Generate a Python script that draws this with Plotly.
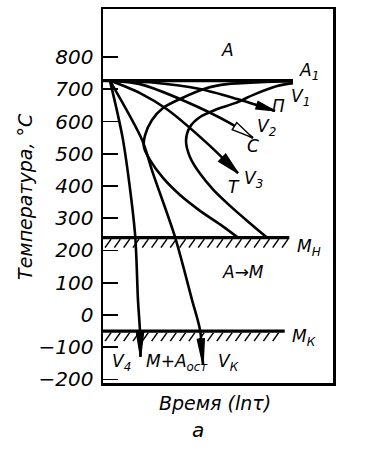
import numpy as np
import plotly.graph_objects as go

# ---------------- data (time in lg tau, temperature in deg C) ----------------
T_TICKS = [-200, -100, 0, 100, 200, 300, 400, 500, 600, 700, 800]
X_RANGE = [0, 10]
T_RANGE = [-211, 949]

A1 = 727          # critical point A1
MN = 240          # martensite start
MK = -50          # martensite finish
A1_X = [0.0, 8.26]
MN_X = [0.0, 8.1]
MK_X = [0.0, 7.9]

# start-of-transformation C-curve
start_t = [5.87, 5.09, 4.22, 3.35, 2.61, 2.04, 1.78, 1.83, 2.13, 2.61, 3.35, 4.52, 5.39, 6.83, 8.26]
start_T = [240, 281, 323, 372, 425, 481, 521, 558, 605, 642, 670, 704, 716, 722, 725]
# end-of-transformation C-curve
finish_t = [7.13, 6.30, 5.50, 4.80, 4.20, 3.78, 3.61, 3.78, 4.22, 4.87, 5.74, 6.61, 7.57, 8.26]
finish_T = [240, 290, 340, 388, 440, 490, 540, 583, 614, 636, 657, 685, 710, 719]

# cooling curves
v1_t = [0.30, 2.04, 4.22, 5.83, 7.48]
v1_T = [727, 722, 701, 670, 633]
v2_t = [0.30, 1.61, 3.57, 5.52, 6.52]
v2_T = [727, 716, 663, 595, 549]
v3_t = [0.30, 1.61, 2.78, 4.52, 5.87]
v3_T = [727, 688, 638, 533, 440]
vk_t = [0.30, 1.70, 2.17, 3.13, 3.87, 4.22, 4.35]
vk_T = [727, 543, 440, 242, 47, -47, -155]
v4_t = [0.30, 0.87, 1.39, 1.52, 1.61, 1.63]
v4_T = [727, 543, 254, 47, -53, -130]

# labels
label_text = ["А", "А<sub>1</sub>", "V<sub>1</sub>", "П", "V<sub>2</sub>", "С",
              "V<sub>3</sub>", "Т", "М<sub>Н</sub>", "А→М", "М<sub>К</sub>",
              "V<sub>4</sub>", "М+А<sub>ост</sub>", "V<sub>К</sub>"]
label_x = [5.43, 8.95, 8.6, 7.65, 7.1, 6.5, 6.55, 5.7, 8.95, 6.1, 8.75, 0.8, 3.2, 5.45]
label_T = [822, 755, 676, 648, 582, 525, 419, 398, 208, 133, -71, -146, -146, -146]

# ---------------- figure ----------------
W, H = 381, 450
ML, MR, MT, MB = 103, 48, 9, 67
PW, PH = W - ML - MR, H - MT - MB
SX = PW / (X_RANGE[1] - X_RANGE[0])   # px per x unit
SY = PH / (T_RANGE[1] - T_RANGE[0])   # px per degree

FONT = "DejaVu Sans"
fig = go.Figure()


def curve(t, T, width=2.6, shape="spline"):
    fig.add_trace(go.Scatter(x=t, y=T, mode="lines",
                             line=dict(color="black", width=width, shape=shape, smoothing=0.8),
                             hoverinfo="skip", showlegend=False))


def arrowhead(t, T, length, half, fill="black"):
    dx = (t[-1] - t[-2]) * SX
    dy = (T[-1] - T[-2]) * SY
    n = np.hypot(dx, dy)
    ux, uy = dx / n, dy / n
    px, py = -uy, ux
    tipx, tipy = t[-1], T[-1]
    bx = tipx - ux * length / SX
    by = tipy - uy * length / SY
    xs = [tipx, bx + px * half / SX, bx - px * half / SX, tipx]
    ys = [tipy, by + py * half / SY, by - py * half / SY, tipy]
    fig.add_trace(go.Scatter(x=xs, y=ys, mode="lines", fill="toself", fillcolor=fill,
                             line=dict(color="black", width=1.4), hoverinfo="skip", showlegend=False))


# critical lines
curve(A1_X, [A1, A1], width=3.2, shape="linear")
curve(MN_X, [MN, MN], width=3.2, shape="linear")
curve(MK_X, [MK, MK], width=3.2, shape="linear")

# hatching under Mn and Mk
for level, xr in [(MN, MN_X), (MK, MK_X)]:
    hx, hy = [], []
    for xh in np.arange(xr[0] + 0.35, xr[1] - 0.05, 0.405):
        hx += [xh, xh - 6 / SX, None]
        hy += [level - 1.5 / SY, level - 10 / SY, None]
    fig.add_trace(go.Scatter(x=hx, y=hy, mode="lines", line=dict(color="black", width=1.5),
                             hoverinfo="skip", showlegend=False))

# C-curves
curve(start_t, start_T)
curve(finish_t, finish_T)

# cooling curves
for t, T in [(v1_t, v1_T), (v2_t, v2_T), (v3_t, v3_T), (vk_t, vk_T), (v4_t, v4_T)]:
    curve(t, T, width=2.6)

arrowhead(v1_t, v1_T, 19, 3.8)
arrowhead(v2_t, v2_T, 22, 4.2, fill="white")
arrowhead(v3_t, v3_T, 22, 5.0)
arrowhead(vk_t, vk_T, 26, 3.5)
arrowhead(v4_t, v4_T, 24, 3.5)

# text labels
for txt, x, y in zip(label_text, label_x, label_T):
    fig.add_annotation(x=x, y=y, text=txt, showarrow=False, xanchor="center", yanchor="middle",
                       font=dict(family=FONT, size=17, color="black", style="italic"))

# axis titles
fig.add_annotation(xref="paper", yref="y", x=(25 - ML) / PW, y=366, text="Температура, °С",
                   textangle=-90, showarrow=False, xanchor="center", yanchor="middle",
                   font=dict(family=FONT, size=19, color="black", style="italic"))
fig.add_annotation(xref="paper", yref="paper", x=(215 - ML) / PW, y=-(403 - MT - PH) / PH,
                   text="Время (lnτ)", showarrow=False, xanchor="center", yanchor="middle",
                   font=dict(family=FONT, size=19, color="black", style="italic"))
fig.add_annotation(xref="paper", yref="paper", x=(198 - ML) / PW, y=-(430 - MT - PH) / PH,
                   text="а", showarrow=False, xanchor="center", yanchor="middle",
                   font=dict(family=FONT, size=20, color="black", style="italic"))

fig.update_layout(
    width=W, height=H, margin=dict(l=ML, r=MR, t=MT, b=MB, autoexpand=False),
    paper_bgcolor="white", plot_bgcolor="white",
    font=dict(family=FONT, color="black", style="italic"),
    xaxis=dict(range=X_RANGE, showgrid=False, zeroline=False, showticklabels=False, ticks="",
               showline=True, mirror=True, linecolor="black", linewidth=2.5),
    yaxis=dict(range=T_RANGE, tickvals=T_TICKS,
               ticktext=[("−" + str(-v)) if v < 0 else str(v) for v in T_TICKS],
               showgrid=False, zeroline=False, ticks="inside", ticklen=15, tickwidth=1.8,
               tickcolor="black", ticklabelstandoff=3,
               tickfont=dict(family=FONT, size=20, color="black", style="italic"),
               showline=True, mirror=True, linecolor="black", linewidth=2.5),
)

fig.write_html("out.html", config={"displayModeBar": False, "staticPlot": True})

# remove the browser's default page margin so the figure sits at the window's corner
with open("out.html", encoding="utf-8") as f:
    html = f.read()
html = html.replace("<head>", "<head><style>html,body{margin:0;padding:0;}</style>", 1)
with open("out.html", "w", encoding="utf-8") as f:
    f.write(html)
